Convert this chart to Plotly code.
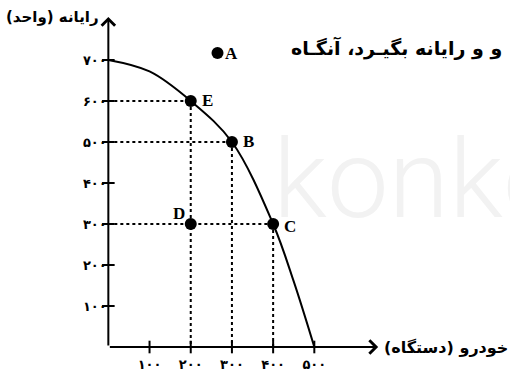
import plotly.graph_objects as go

# production possibilities curve (cars vs computers)
curve_x = [0, 100, 200, 300, 400, 450, 500]
curve_y = [700, 672, 600, 500, 300, 160, 0]

point_names = ["E", "B", "C", "D", "A"]
point_x = [200, 300, 400, 200, 265]
point_y = [600, 500, 300, 300, 717]

x_ticks = [100, 200, 300, 400, 500]
x_ticktext = ["۱۰۰", "۲۰۰", "۳۰۰", "۴۰۰", "۵۰۰"]
y_ticks = [100, 200, 300, 400, 500, 600, 700]
y_ticktext = ["۱۰۰", "۲۰۰", "۳۰۰", "۴۰۰", "۵۰۰", "۶۰۰", "۷۰۰"]

x_title = "خودرو (دستگاه)"
y_title = "رایانه (واحد)"
top_text = "و و رایانه بگیـرد، آنگـاه"

fa_font = "DejaVu Sans"
lbl_font = "Liberation Serif"

fig = go.Figure()

# dotted guide lines
guides = [
    ([0, 200], [600, 600]), ([200, 200], [600, 0]),
    ([0, 300], [500, 500]), ([300, 300], [500, 0]),
    ([0, 400], [300, 300]), ([400, 400], [300, 0]),
]
for gx, gy in guides:
    fig.add_trace(go.Scatter(x=gx, y=gy, mode="lines",
                             line=dict(color="black", width=2, dash="dot"),
                             hoverinfo="skip", showlegend=False))

fig.add_trace(go.Scatter(x=curve_x, y=curve_y, mode="lines",
                         line=dict(color="black", width=2, shape="spline",
                                   smoothing=1),
                         showlegend=False))

# tick marks
fig.add_trace(go.Scatter(x=x_ticks, y=[0] * len(x_ticks), mode="markers",
                         marker=dict(symbol="line-ns", size=9,
                                     line=dict(color="black", width=2)),
                         hoverinfo="skip", showlegend=False))
fig.add_trace(go.Scatter(x=[0] * len(y_ticks), y=y_ticks, mode="markers",
                         marker=dict(symbol="line-ew", size=9,
                                     line=dict(color="black", width=2)),
                         hoverinfo="skip", showlegend=False))

fig.add_trace(go.Scatter(x=point_x, y=point_y, mode="markers",
                         marker=dict(color="black", size=12),
                         showlegend=False))

# axes with arrow heads
fig.add_annotation(x=655, y=0, ax=0, ay=0, axref="x", ayref="y",
                   xref="x", yref="y", text="", showarrow=True,
                   arrowhead=4, arrowsize=1.3, arrowwidth=2, arrowcolor="black")
fig.add_annotation(x=0, y=805, ax=0, ay=0, axref="x", ayref="y",
                   xref="x", yref="y", text="", showarrow=True,
                   arrowhead=4, arrowsize=1.3, arrowwidth=2, arrowcolor="black")

# point labels
offsets = {"E": (9, 0), "B": (9, 1), "C": (9, -2), "D": (-20, 11), "A": (5, 0)}
for n, px, py in zip(point_names, point_x, point_y):
    dx, dy = offsets[n]
    fig.add_annotation(x=px, y=py, text="<b>%s</b>" % n, showarrow=False,
                       xanchor="left", xshift=dx, yshift=dy,
                       font=dict(family=lbl_font, size=17, color="black"))

fig.add_annotation(x=0, y=805, text="<b>%s</b>" % y_title, showarrow=False,
                   xanchor="right", yanchor="middle", xshift=-7, yshift=0,
                   font=dict(family=fa_font, size=15, color="black"))
fig.add_annotation(x=660, y=0, text="<b>%s</b>" % x_title, showarrow=False,
                   xanchor="left", yanchor="middle", xshift=2,
                   font=dict(family=fa_font, size=16, color="black"))
fig.add_annotation(x=0.988, y=0.87, xref="paper", yref="paper",
                   text="<b>%s</b>" % top_text, showarrow=False,
                   xanchor="right", yanchor="middle",
                   font=dict(family=fa_font, size=19, color="black"))

# watermark
fig.add_annotation(x=0.532, y=0.515, xref="paper", yref="paper", text="konko",
                   showarrow=False, xanchor="left", yanchor="middle",
                   font=dict(family="Roboto", size=110, color="#f2f2f2",
                             weight=300))

fig.update_layout(
    width=510, height=371,
    margin=dict(l=0, r=0, t=0, b=0),
    plot_bgcolor="white", paper_bgcolor="white",
    xaxis=dict(range=[-263, 975], showgrid=False, zeroline=False,
               showline=False, tickvals=x_ticks, ticktext=x_ticktext,
               anchor="free", position=24 / 371, ticks="", automargin=False,
               ticklabelstandoff=8,
               tickfont=dict(family=fa_font, size=13, color="black", weight="bold")),
    yaxis=dict(range=[-58.5, 846.3], showgrid=False, zeroline=False,
               showline=False, tickvals=y_ticks, ticktext=y_ticktext,
               anchor="free", position=108.7 / 510, ticks="", automargin=False,
               ticklabelstandoff=2,
               tickfont=dict(family=fa_font, size=13, color="black", weight="bold")),
)

# drop the page's default body margin so the figure fills the window
fig.write_html("out.html", config={"displayModeBar": False},
               post_script="document.body.style.margin='0px';")
